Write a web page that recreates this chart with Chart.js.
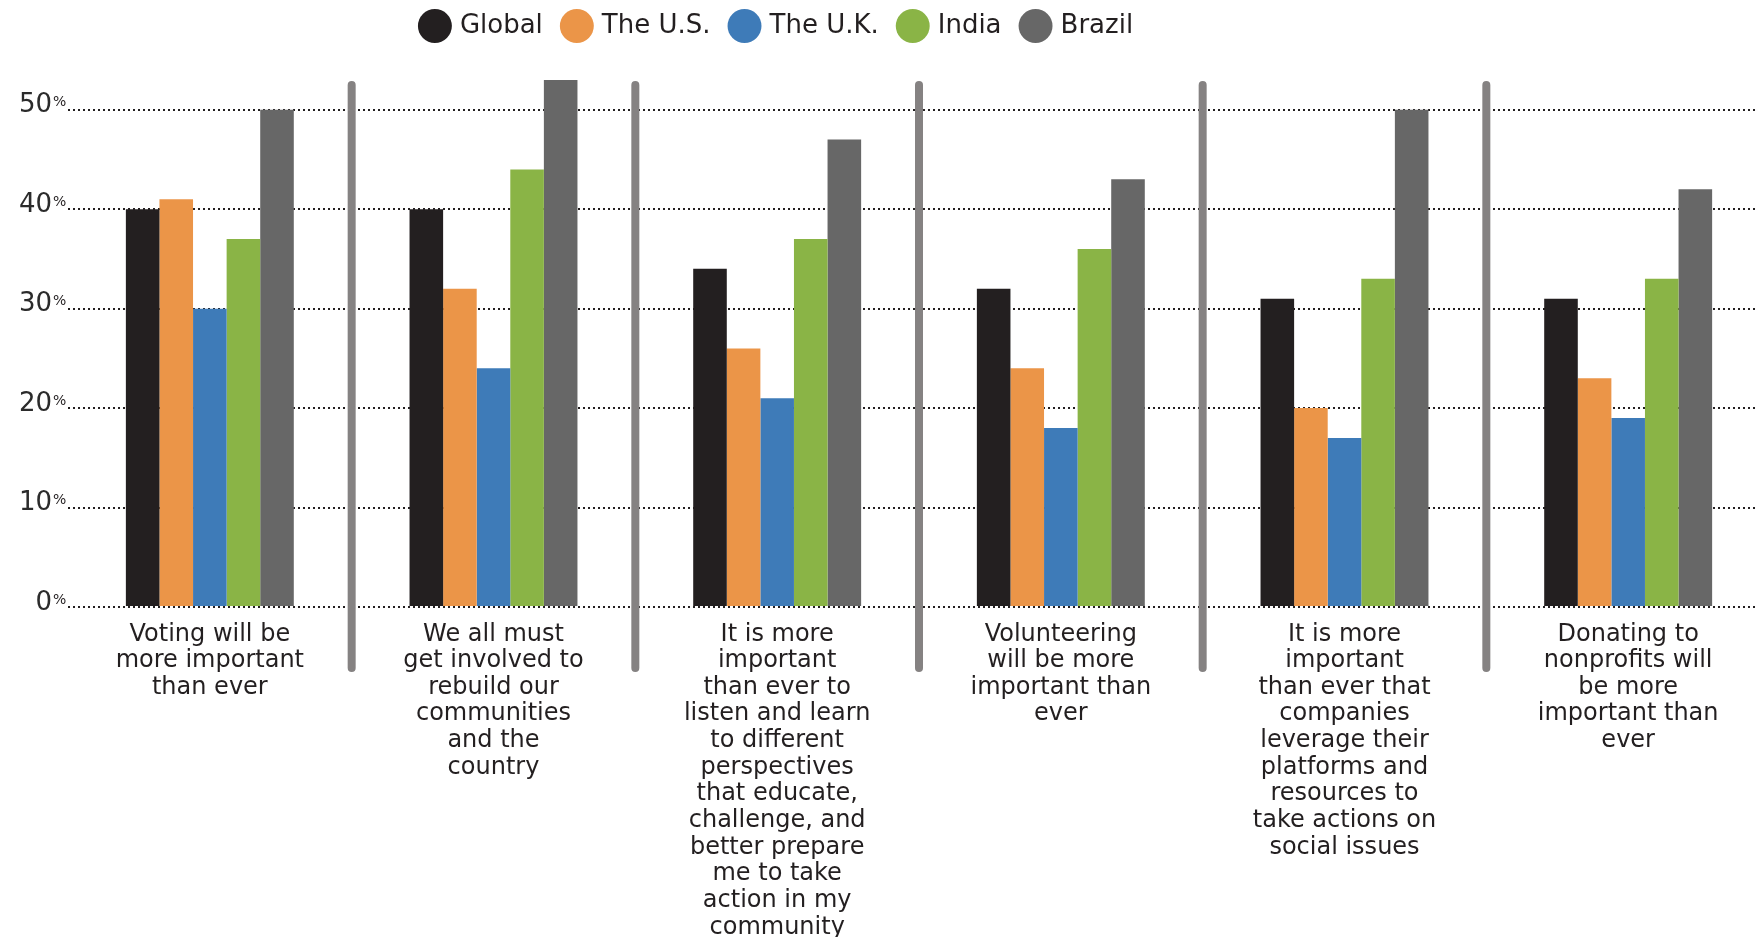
<!DOCTYPE html>
<html>
<head>
<meta charset="utf-8">
<script src="https://cdn.jsdelivr.net/npm/chart.js@4.4.1/dist/chart.umd.min.js"></script>
<style>
    html, body { margin: 0; padding: 0; background: #fff; overflow: hidden; }
    #wrap { width: 1770px; height: 937px; }
</style>
</head>
<body>
<div id="wrap"><canvas id="chart"></canvas></div>
<script>
const categories = [
    ['Voting will be', 'more important', 'than ever'],
    ['We all must', 'get involved to', 'rebuild our', 'communities', 'and the', 'country'],
    ['It is more', 'important', 'than ever to', 'listen and learn', 'to different', 'perspectives',
     'that educate,', 'challenge, and', 'better prepare', 'me to take', 'action in my', 'community'],
    ['Volunteering', 'will be more', 'important than', 'ever'],
    ['It is more', 'important', 'than ever that', 'companies', 'leverage their', 'platforms and',
     'resources to', 'take actions on', 'social issues'],
    ['Donating to', 'nonprofits will', 'be more', 'important than', 'ever']
];
const seriesNames = ['Global', 'The U.S.', 'The U.K.', 'India', 'Brazil'];
const globalValues = [40, 40, 34, 32, 31, 31];
const usValues = [41, 32, 26, 24, 20, 23];
const ukValues = [30, 24, 21, 18, 17, 19];
const indiaValues = [37, 44, 37, 36, 33, 33];
const brazilValues = [50, 53, 47, 43, 50, 42];
const yTickValues = [0, 10, 20, 30, 40, 50];

const colors = ['#231f20', '#eb9548', '#3e7bb8', '#8ab446', '#676767'];
const textColor = '#231f20';
const fontFamily = '"DejaVu Sans", "Open Sans", sans-serif';

const seriesValues = [globalValues, usValues, ukValues, indiaValues, brazilValues];

// separators between groups, superscript % on y ticks, legend nudged into place
const decor = {
    id: 'decor',
    afterLayout(chart) {
        const lg = chart.legend;
        lg.left -= 107;
        lg.right -= 107;
        lg.top -= 11;
        lg.bottom -= 11;
    },
    afterDatasetsDraw(chart) {
        const x = chart.scales.x;
        const ctx = chart.ctx;
        ctx.save();
        ctx.strokeStyle = '#858282';
        ctx.lineWidth = 8;
        ctx.lineCap = 'round';
        for (let i = 0; i < categories.length - 1; i++) {
            const px = (x.getPixelForValue(i) + x.getPixelForValue(i + 1)) / 2;
            ctx.beginPath();
            ctx.moveTo(px, 85);
            ctx.lineTo(px, 668);
            ctx.stroke();
        }
        ctx.restore();
    },
    afterDraw(chart) {
        const y = chart.scales.y;
        const ctx = chart.ctx;
        ctx.save();
        ctx.fillStyle = textColor;
        ctx.font = '14px ' + fontFamily;
        ctx.textAlign = 'left';
        ctx.textBaseline = 'top';
        y.ticks.forEach(t => {
            const py = y.getPixelForValue(t.value);
            ctx.fillText('%', y.right - 15, py - 14);
        });
        ctx.restore();
    }
};

new Chart(document.getElementById('chart'), {
    type: 'bar',
    data: {
        labels: categories,
        datasets: seriesNames.map((name, i) => ({
            label: name,
            data: seriesValues[i],
            backgroundColor: colors[i],
            borderWidth: 0,
            barPercentage: 1,
            categoryPercentage: 0.592
        }))
    },
    options: {
        responsive: true,
        maintainAspectRatio: false,
        animation: false,
        layout: { padding: { top: 2, left: 0, right: 0, bottom: 0 } },
        plugins: {
            legend: {
                position: 'top',
                labels: {
                    usePointStyle: true,
                    pointStyle: 'circle',
                    boxWidth: 24,
                    boxHeight: 24,
                    padding: 22,
                    color: textColor,
                    font: { family: fontFamily, size: 26 }
                }
            },
            tooltip: { enabled: false }
        },
        scales: {
            x: {
                grid: { display: false },
                border: { display: false },
                ticks: {
                    color: textColor,
                    font: { family: fontFamily, size: 24, lineHeight: 1.11 },
                    padding: 6,
                    maxRotation: 0,
                    autoSkip: false
                },
                afterFit(scale) { scale.height = 330; }
            },
            y: {
                min: 0,
                max: 55,
                afterBuildTicks(scale) {
                    scale.ticks = yTickValues.map(v => ({ value: v }));
                },
                grid: {
                    color: '#231f20',
                    lineWidth: 2,
                    drawTicks: false
                },
                border: { display: false, dash: [2, 3] },
                ticks: {
                    color: '#2b2b2b',
                    font: { family: fontFamily, size: 26 },
                    padding: 16,
                    labelOffset: -4,
                    callback: v => String(v)
                },
                afterFit(scale) { scale.width = 68; }
            }
        }
    },
    plugins: [decor]
});
</script>
</body>
</html>
